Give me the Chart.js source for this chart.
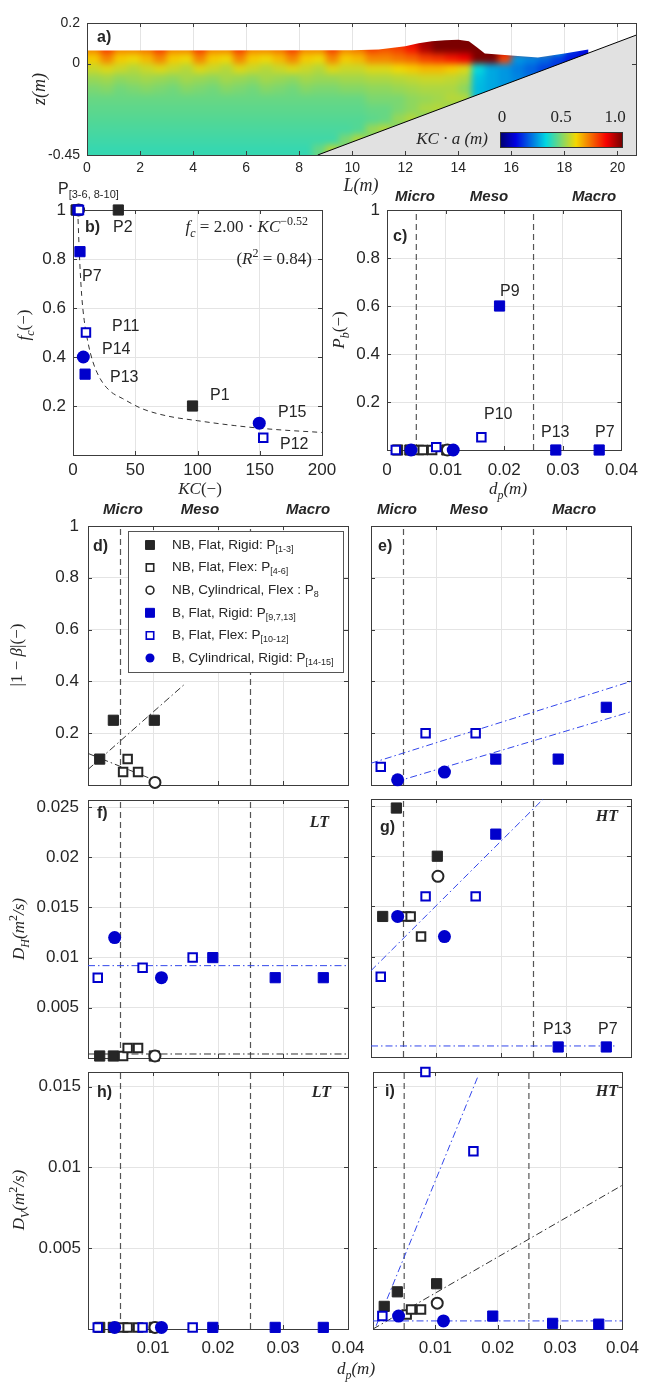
<!DOCTYPE html>
<html>
<head>
<meta charset="utf-8">
<script src="https://cdn.jsdelivr.net/npm/chart.js@4.4.1/dist/chart.umd.min.js"></script>
<style>
  html, body { margin: 0; padding: 0; background: #fff; }
  #wrap { position: relative; width: 648px; height: 1386px; overflow: hidden; }
  #wrap canvas { position: absolute; left: 0; top: 0; }
</style>
</head>
<body>
<div id="wrap"></div>
<script>
// ---------- data ----------

// a) KC*a field along the flume (0.5 m x 0.05 m cells, top row starts at z = 0.15)
const fieldX0 = 0, fieldDX = 0.5, fieldZ0 = 0.15, fieldDZ = 0.05;
const kcaRows = [
  [0.72,0.8,0.72,0.72,0.74,0.8,0.72,0.72,0.8,0.72,0.72,0.8,0.72,0.72,0.74,0.8,0.72,0.72,0.8,0.72,0.74,0.8, 0.8,0.85,0.9,0.97,1,1,1,1,0.95,0.9,0.85,0.8,0.6,0.3,0.2,0.15,0.15,0.15,0.15,0.15],
  [0.72,0.8,0.72,0.72,0.74,0.8,0.72,0.72,0.8,0.72,0.72,0.8,0.72,0.72,0.74,0.8,0.72,0.72,0.8,0.72,0.74,0.8, 0.78,0.8,0.85,0.95,1,1,1,1,1,0.92,0.88,0.85,0.7,0.4,0.2,0.15,0.15,0.15,0.15,0.15],
  [0.64,0.72,0.64,0.62,0.66,0.72,0.64,0.62,0.72,0.64,0.62,0.72,0.64,0.62,0.66,0.72,0.64,0.62,0.72,0.64,0.66,0.72, 0.72,0.74,0.76,0.8,0.82,0.85,0.88,1,1,0.8,0.3,0.28,0.25,0.2,0.15,0.12,0.12,0.12,0.12,0.12],
  [0.58,0.6,0.58,0.56,0.58,0.6,0.58,0.56,0.6,0.58,0.56,0.6,0.58,0.56,0.58,0.6,0.58,0.56,0.6,0.58,0.58,0.6, 0.6,0.62,0.64,0.66,0.66,0.64,0.6,0.38,0.32,0.3,0.27,0.24,0.2,0.18,0.15,0.12,0.12,0.12,0.12,0.12],
  [0.53,0.54,0.52,0.53,0.54,0.53,0.52,0.54,0.53,0.52,0.54,0.53,0.52,0.54,0.53,0.52,0.54,0.53,0.53,0.54,0.54,0.55, 0.55,0.56,0.57,0.58,0.58,0.57,0.55,0.35,0.32,0.3,0.28,0.25,0.22,0.2,0.2,0.2,0.2,0.2,0.2,0.2],
  [0.5,0.51,0.49,0.5,0.51,0.5,0.49,0.51,0.5,0.49,0.51,0.5,0.49,0.51,0.5,0.49,0.51,0.5,0.5,0.51,0.51,0.52, 0.52,0.53,0.54,0.55,0.55,0.55,0.52,0.34,0.32,0.3,0.3,0.3,0.3,0.3,0.3,0.3,0.3,0.3,0.3,0.3],
  [0.48,0.48,0.48,0.48,0.48,0.48,0.48,0.48,0.48,0.48,0.48,0.48,0.48,0.48,0.48,0.48,0.48,0.48,0.48,0.48,0.48,0.5, 0.5,0.5,0.52,0.53,0.54,0.56,0.56,0.35,0.35,0.35,0.35,0.35,0.35,0.35,0.35,0.35,0.35,0.35,0.35,0.35],
  [0.47,0.47,0.47,0.47,0.47,0.47,0.47,0.47,0.47,0.47,0.47,0.47,0.47,0.47,0.47,0.47,0.47,0.47,0.47,0.47,0.47,0.48, 0.48,0.5,0.52,0.55,0.56,0.52,0.5,0.5,0.5,0.5,0.5,0.5,0.5,0.5,0.5,0.5,0.5,0.5,0.5,0.5],
  [0.46,0.46,0.46,0.46,0.46,0.46,0.46,0.46,0.46,0.46,0.46,0.46,0.46,0.46,0.46,0.46,0.46,0.46,0.46,0.46,0.46,0.47, 0.48,0.53,0.56,0.5,0.5,0.5,0.5,0.5,0.5,0.5,0.5,0.5,0.5,0.5,0.5,0.5,0.5,0.5,0.5,0.5],
  [0.45,0.45,0.45,0.45,0.45,0.45,0.45,0.45,0.45,0.45,0.45,0.45,0.45,0.45,0.45,0.45,0.45,0.45,0.45,0.45,0.46,0.53, 0.56,0.5,0.5,0.5,0.5,0.5,0.5,0.5,0.5,0.5,0.5,0.5,0.5,0.5,0.5,0.5,0.5,0.5,0.5,0.5],
  [0.44,0.44,0.44,0.44,0.44,0.44,0.44,0.44,0.44,0.44,0.44,0.44,0.44,0.44,0.44,0.44,0.44,0.44,0.44,0.5,0.56,0.5, 0.5,0.5,0.5,0.5,0.5,0.5,0.5,0.5,0.5,0.5,0.5,0.5,0.5,0.5,0.5,0.5,0.5,0.5,0.5,0.5],
  [0.43,0.43,0.43,0.43,0.43,0.43,0.43,0.43,0.43,0.43,0.43,0.43,0.43,0.43,0.43,0.43,0.43,0.48,0.56,0.5,0.5,0.5, 0.5,0.5,0.5,0.5,0.5,0.5,0.5,0.5,0.5,0.5,0.5,0.5,0.5,0.5,0.5,0.5,0.5,0.5,0.5,0.5]
];
const surfX = [0, 10, 11, 12, 12.5, 13, 13.5, 14, 14.4, 14.7, 15.0, 15.5, 16, 17, 18, 18.9];
const surfZ = [0.064, 0.066, 0.07, 0.085, 0.1, 0.11, 0.115, 0.118, 0.11, 0.08, 0.05, 0.045, 0.04, 0.03, 0.05, 0.07];
const bedX = [8.7, 20.7];
const bedZ = [-0.45, 0.14];
const lTicks = [0, 2, 4, 6, 8, 10, 12, 14, 16, 18, 20];
const zTicks = [-0.45, 0, 0.2];

// particle diameter per group (P1-3, P4-6, P8, P9/P7/P13, P10-12, P14-15)
const dpNbRigid = [0.0018, 0.0039, 0.0102];
const dpNbFlex = [0.0054, 0.0061, 0.0077];
const dpNbCyl = [0.0103];
const dpBRigid = [0.0192, 0.0362, 0.0288];
const dpBFlex = [0.0015, 0.0084, 0.0161];
const dpBCyl = [0.0041, 0.0113];

// b) KC and fc
const kcNbRigid = [96, 36.4, 2.5], fcNbRigid = [0.2, 1, 1];
const kcNbFlex = [3, 3.5, 4], fcNbFlex = [1, 1, 1];
const kcNbCyl = [4.5], fcNbCyl = [1];
const kcBRigid = [4, 5.6, 9.7], fcBRigid = [1, 0.83, 0.33];
const kcBFlex = [4.8, 10.4, 152.8], fcBFlex = [1, 0.5, 0.07];
const kcBCyl = [8.3, 149.6], fcBCyl = [0.4, 0.13];
const kcFit = [3.8, 4.5, 5.5, 7, 9, 12, 16, 22, 30, 40, 55, 75, 100, 130, 160, 200];
const fcFit = [1.0, 0.9, 0.78, 0.65, 0.55, 0.46, 0.38, 0.31, 0.26, 0.23, 0.19, 0.16, 0.14, 0.12, 0.105, 0.092];

// c) Pb
const pbNbRigid = [0, 0, 0], pbNbFlex = [0, 0, 0], pbNbCyl = [0];
const pbBRigid = [0.6, 0, 0], pbBFlex = [0, 0.012, 0.053], pbBCyl = [0, 0];

// d, e) |1 - beta|
const betaNbRigid = [0.1, 0.25, 0.25], betaNbFlex = [0.05, 0.1, 0.05], betaNbCyl = [0.01];
const betaBRigid = [0.1, 0.3, 0.1], betaBFlex = [0.07, 0.2, 0.2], betaBCyl = [0.02, 0.05];
const betaNbFitAX = [0, 0.0149], betaNbFitAY = [0.06, 0.39];
const betaNbFitBX = [0, 0.0095], betaNbFitBY = [0.122, 0.026];
const betaBFitAX = [0, 0.04], betaBFitAY = [0.084, 0.40];
const betaBFitBX = [0.0039, 0.04], betaBFitBY = [0.013, 0.283];

// f) DH, low turbulence
const dhLtNbRigid = [0.0002, 0.0002, 0.0002], dhLtNbFlex = [0.0002, 0.001, 0.001], dhLtNbCyl = [0.0002];
const dhLtBRigid = [0.01, 0.008, 0.008], dhLtBFlex = [0.008, 0.009, 0.01], dhLtBCyl = [0.012, 0.008];
const dhLtBFitX = [0, 0.04], dhLtBFitY = [0.0092, 0.0092];
const dhLtNbFitX = [0, 0.04], dhLtNbFitY = [0.0004, 0.0004];

// g) DH, high turbulence
const dhHtNbRigid = [0.014, 0.0248, 0.02], dhHtNbFlex = [0.014, 0.014, 0.012], dhHtNbCyl = [0.018];
const dhHtBRigid = [0.0222, 0.001, 0.001], dhHtBFlex = [0.008, 0.016, 0.016], dhHtBCyl = [0.014, 0.012];
const dhHtBFitAX = [0, 0.0265], dhHtBFitAY = [0.0086, 0.0257];
const dhHtBFitBX = [0, 0.0375], dhHtBFitBY = [0.0011, 0.0011];

// h) DV, low turbulence
const dvLtNbRigid = [0.0001, 0.0001, 0.0001], dvLtNbFlex = [0.0001, 0.0001, 0.0001], dvLtNbCyl = [0.0001];
const dvLtBRigid = [0.0001, 0.0001, 0.0001], dvLtBFlex = [0.0001, 0.0001, 0.0001], dvLtBCyl = [0.0001, 0.0001];

// i) DV, high turbulence
const dvHtNbRigid = [0.0014, 0.0023, 0.0028], dvHtNbFlex = [0.0009, 0.0012, 0.0012], dvHtNbCyl = [0.0016];
const dvHtBRigid = [0.0008, 0.0003, 0.00035], dvHtBFlex = [0.0008, 0.0159, 0.011], dvHtBCyl = [0.0008, 0.0005];
const dvHtBFitAX = [0.0005, 0.0168], dvHtBFitAY = [0.0002, 0.0156];
const dvHtNbFitX = [0, 0.04], dvHtNbFitY = [0, 0.0089];
const dvHtBFitBX = [0, 0.04], dvHtBFitBY = [0.0005, 0.0005];

const regimeDp = [0.005, 0.025];
const dpTicks = [0, 0.01, 0.02, 0.03, 0.04];
const kcTicks = [0, 50, 100, 150, 200];
const unitTicks = [0, 0.2, 0.4, 0.6, 0.8, 1];
const dhTicks = [0, 0.005, 0.01, 0.015, 0.02, 0.025];
const dvTicks = [0, 0.005, 0.01, 0.015];

// ---------- look ----------
const W = 648, H = 1386;
const AXW = 70, AXH = 40; // room kept for tick labels outside each plot box
const INK = '#262626', GRID = '#e4e4e4', FRAME = '#3c3c3c';
const BLUE = 'rgb(0,0,204)', FIT_BLUE = 'rgb(50,70,235)', REGIME = '#555';
const SANS = 'Arial, "Liberation Sans", Helvetica, sans-serif';
const SERIF = '"Liberation Serif", "DejaVu Serif", serif';
const DASHDOT = [7, 3, 1.5, 3];

const GROUPS = [
  { label: 'NB, Flat, Rigid: P', sub: '[1-3]', shape: 'rect', r: 7.2, fill: INK, stroke: INK, bw: 1 },
  { label: 'NB, Flat, Flex: P', sub: '[4-6]', shape: 'rect', r: 6, fill: '#fff', stroke: INK, bw: 2 },
  { label: 'NB, Cylindrical, Flex : P', sub: '8', shape: 'circle', r: 5.5, fill: '#fff', stroke: INK, bw: 2 },
  { label: 'B, Flat, Rigid: P', sub: '[9,7,13]', shape: 'rect', r: 7.2, fill: BLUE, stroke: BLUE, bw: 1 },
  { label: 'B, Flat, Flex: P', sub: '[10-12]', shape: 'rect', r: 6, fill: '#fff', stroke: BLUE, bw: 2 },
  { label: 'B, Cylindrical, Rigid: P', sub: '[14-15]', shape: 'circle', r: 6.5, fill: BLUE, stroke: BLUE, bw: 0 }
];

function jet(v) {
  v = Math.max(0, Math.min(1, v));
  const f = t => Math.max(0, Math.min(1, 1.5 - Math.abs(4 * v - t)));
  return `rgb(${Math.round(f(3) * 245)},${Math.round(f(2) * 215)},${Math.round(f(1) * 225)})`;
}

function pts(xs, ys) { return xs.map((x, k) => ({ x, y: ys[k] })); }

function markers(xsList, ysList) {
  const out = [];
  for (let k = GROUPS.length - 1; k >= 0; k--) {
    if (!ysList[k]) continue;
    const g = GROUPS[k];
    out.push({
      data: pts(xsList[k], ysList[k]), showLine: false, clip: false,
      pointStyle: g.shape, pointRadius: g.r, pointHoverRadius: g.r,
      pointBackgroundColor: g.fill, pointBorderColor: g.stroke, pointBorderWidth: g.bw
    });
  }
  return out;
}

function line(xs, ys, color, dash, width) {
  return {
    data: pts(xs, ys), showLine: true, pointRadius: 0, fill: false,
    borderColor: color, borderWidth: width || 1, borderDash: dash || []
  };
}

function regimeLines(ymin, ymax) {
  return regimeDp.map(v => line([v, v], [ymin, ymax], REGIME, [6, 4], 1.2));
}

const dpAll = [dpNbRigid, dpNbFlex, dpNbCyl, dpBRigid, dpBFlex, dpBCyl];

// ---------- drawing helpers ----------
function drawRich(ctx, segs, x, y, opt = {}) {
  const size = opt.size || 17, fam = opt.family || SERIF;
  const font = s => {
    const m = s[1] || '';
    const small = m.includes('_') || m.includes('^');
    return (m.includes('b') ? 'bold ' : '') + (m.includes('i') ? 'italic ' : '') +
      (small ? Math.round(size * 0.68) : size) + 'px ' + fam;
  };
  let total = 0;
  const widths = segs.map(s => { ctx.font = font(s); const w = ctx.measureText(s[0]).width; total += w; return w; });
  ctx.save();
  ctx.translate(x, y);
  if (opt.rotate) ctx.rotate(opt.rotate);
  ctx.fillStyle = opt.color || INK;
  ctx.textBaseline = 'middle';
  ctx.textAlign = 'left';
  let cx = opt.align === 'left' ? 0 : opt.align === 'right' ? -total : -total / 2;
  segs.forEach((s, k) => {
    const m = s[1] || '';
    ctx.font = font(s);
    const dy = m.includes('_') ? size * 0.32 : m.includes('^') ? -size * 0.38 : 0;
    ctx.fillText(s[0], cx, dy);
    cx += widths[k];
  });
  ctx.restore();
}

function txt(ctx, s, x, y, font, align) {
  ctx.save();
  ctx.font = font;
  ctx.fillStyle = INK;
  ctx.textAlign = align || 'left';
  ctx.textBaseline = 'middle';
  ctx.fillText(s, x, y);
  ctx.restore();
}

const LBL = `16px ${SANS}`;
const PANEL = `bold 16px ${SANS}`;
const REG = `bold italic 15px ${SANS}`;
const TURB = `bold italic 16px ${SERIF}`;
const UP = -Math.PI / 2;

function regimeHeads(ctx, xs, y) {
  txt(ctx, 'Micro', xs[0], y, REG, 'center');
  txt(ctx, 'Meso', xs[1], y, REG, 'center');
  txt(ctx, 'Macro', xs[2], y, REG, 'center');
}

function framePlugin(onTop) {
  const draw = chart => {
    const { ctx, chartArea: a, scales } = chart;
    ctx.save();
    ctx.strokeStyle = FRAME;
    ctx.lineWidth = 1;
    ctx.beginPath();
    scales.x.ticks.forEach(t => {
      const px = Math.round(scales.x.getPixelForValue(t.value)) + 0.5;
      ctx.moveTo(px, a.bottom); ctx.lineTo(px, a.bottom - 4);
      ctx.moveTo(px, a.top); ctx.lineTo(px, a.top + 4);
    });
    scales.y.ticks.forEach(t => {
      const py = Math.round(scales.y.getPixelForValue(t.value)) + 0.5;
      ctx.moveTo(a.left, py); ctx.lineTo(a.left + 4, py);
      ctx.moveTo(a.right, py); ctx.lineTo(a.right - 4, py);
    });
    ctx.stroke();
    ctx.strokeRect(Math.round(a.left) + 0.5, Math.round(a.top) + 0.5,
      Math.round(a.right - a.left), Math.round(a.bottom - a.top));
    ctx.restore();
  };
  return onTop ? { id: 'frame', afterDraw: draw } : { id: 'frame', beforeDatasetsDraw: draw };
}

function notes(fn) { return { id: 'notes', afterDraw: chart => fn(chart.ctx, chart) }; }

function axis(o, dir) {
  const near = (list, v) => (list || []).some(l => Math.abs(l - v) < 1e-9);
  return {
    type: 'linear', min: o.min, max: o.max,
    afterFit(s) { if (dir === 'x') s.height = AXH; else s.width = AXW; },
    afterBuildTicks(s) { s.ticks = o.ticks.map(v => ({ value: v })); },
    grid: { color: GRID, drawTicks: false, lineWidth: 1 },
    border: { display: false },
    ticks: {
      display: !!o.labels, padding: o.pad == null ? 7 : o.pad, color: INK,
      font: { family: SANS, size: o.size || 17 }, autoSkip: false, maxRotation: 0,
      callback: v => near(o.labels, v) ? String(v) : ''
    }
  };
}

function panel(box, xo, yo, datasets, plugins) {
  const cv = document.createElement('canvas');
  cv.width = W; cv.height = H;
  cv.style.width = W + 'px'; cv.style.height = H + 'px';
  document.getElementById('wrap').appendChild(cv);
  return new Chart(cv, {
    type: 'scatter',
    data: { datasets },
    options: {
      responsive: false, animation: false, devicePixelRatio: 1, events: [],
      layout: { padding: { left: box[0] - AXW, top: box[1], right: W - box[2], bottom: H - box[3] - AXH } },
      plugins: { legend: { display: false }, tooltip: { enabled: false } },
      scales: { x: axis(xo, 'x'), y: axis(yo, 'y') }
    },
    plugins
  });
}

// ---------- a) wave field ----------
const fieldPlugin = {
  id: 'field',
  beforeDatasetsDraw(chart) {
    const { ctx, chartArea: a, scales: { x, y } } = chart;
    const off = document.createElement('canvas');
    off.width = W; off.height = H;
    const o = off.getContext('2d');
    kcaRows.forEach((row, j) => row.forEach((v, i) => {
      let x0 = x.getPixelForValue(fieldX0 + i * fieldDX);
      const x1 = x.getPixelForValue(fieldX0 + (i + 1) * fieldDX);
      const y0 = y.getPixelForValue(fieldZ0 - j * fieldDZ);
      let y1 = y.getPixelForValue(fieldZ0 - (j + 1) * fieldDZ);
      if (i === 0) x0 -= 10;
      if (j === kcaRows.length - 1) y1 += 10;
      o.fillStyle = jet(v);
      o.fillRect(x0, y0, x1 - x0 + 1, y1 - y0 + 1);
    }));
    ctx.save();
    ctx.beginPath();
    ctx.rect(a.left, a.top, a.right - a.left, a.bottom - a.top);
    ctx.clip();
    ctx.beginPath();
    surfX.forEach((sx, k) => {
      const px = x.getPixelForValue(sx), py = y.getPixelForValue(surfZ[k]);
      if (k === 0) ctx.moveTo(px, py); else ctx.lineTo(px, py);
    });
    ctx.lineTo(x.getPixelForValue(surfX[surfX.length - 1]), a.bottom + 2);
    ctx.lineTo(a.left, a.bottom + 2);
    ctx.closePath();
    ctx.clip();
    ctx.filter = 'blur(3px)';
    ctx.drawImage(off, 0, 0);
    ctx.filter = 'none';
    ctx.restore();
  }
};

const bedSet = {
  type: 'line', data: pts(bedX, bedZ), pointRadius: 0, borderColor: '#000', borderWidth: 1,
  backgroundColor: '#e1e1e1', fill: 'start'
};

panel([87, 23, 636, 155],
  { min: 0, max: 20.7, ticks: lTicks, labels: lTicks, size: 14, pad: 5 },
  { min: -0.45, max: 0.2, ticks: zTicks, labels: zTicks, size: 14, pad: 7 },
  [bedSet],
  [fieldPlugin, framePlugin(true), notes(ctx => {
    txt(ctx, 'a)', 97, 38, PANEL);
    drawRich(ctx, [['z', 'i'], ['(m)', 'i']], 40, 89, { rotate: UP, size: 18 });
    drawRich(ctx, [['L', 'i'], ['(m)', 'i']], 361, 186, { size: 18 });
    // colour bar
    const cx0 = 500, cx1 = 622, cy0 = 132, cy1 = 147;
    for (let px = cx0; px < cx1; px++) {
      ctx.fillStyle = jet((px - cx0) / (cx1 - cx0 - 1));
      ctx.fillRect(px, cy0, 1, cy1 - cy0);
    }
    ctx.strokeStyle = '#333';
    ctx.lineWidth = 1;
    ctx.strokeRect(cx0 + 0.5, cy0 + 0.5, cx1 - cx0, cy1 - cy0);
    txt(ctx, '0', cx0 + 2, 118, `17px ${SERIF}`, 'center');
    txt(ctx, '0.5', (cx0 + cx1) / 2, 118, `17px ${SERIF}`, 'center');
    txt(ctx, '1.0', cx1 - 7, 118, `17px ${SERIF}`, 'center');
    drawRich(ctx, [['KC · a (m)', 'i']], 488, 140, { align: 'right', size: 17 });
  })]);

// ---------- b) fc vs KC ----------
panel([73, 210, 322, 455],
  { min: 0, max: 200, ticks: kcTicks, labels: kcTicks, pad: 5 },
  { min: 0, max: 1, ticks: unitTicks, labels: [0.2, 0.4, 0.6, 0.8, 1] },
  [...markers([kcNbRigid, kcNbFlex, kcNbCyl, kcBRigid, kcBFlex, kcBCyl],
              [fcNbRigid, fcNbFlex, fcNbCyl, fcBRigid, fcBFlex, fcBCyl]),
   Object.assign(line(kcFit, fcFit, '#333', [5, 4]), { cubicInterpolationMode: 'monotone' })],
  [framePlugin(false), notes(ctx => {
    drawRich(ctx, [['P', ''], ['[3-6, 8-10]', '_']], 58, 190, { align: 'left', size: 16, family: SANS });
    txt(ctx, 'b)', 85, 228, PANEL);
    txt(ctx, 'P2', 113, 228, LBL);
    drawRich(ctx, [['f', 'i'], ['c', 'i_'], [' = 2.00 · ', ''], ['KC', 'i'], ['−0.52', '^']], 308, 228, { align: 'right', size: 17 });
    drawRich(ctx, [['(', ''], ['R', 'i'], ['2', '^'], [' = 0.84)', '']], 312, 260, { align: 'right', size: 17 });
    txt(ctx, 'P7', 82, 277, LBL);
    txt(ctx, 'P11', 112, 327, LBL);
    txt(ctx, 'P14', 102, 350, LBL);
    txt(ctx, 'P13', 110, 378, LBL);
    txt(ctx, 'P1', 210, 396, LBL);
    txt(ctx, 'P15', 278, 413, LBL);
    txt(ctx, 'P12', 280, 445, LBL);
    drawRich(ctx, [['KC', 'i'], ['(−)', '']], 200, 490);
    drawRich(ctx, [['f', 'i'], ['c', 'i_'], ['(−)', '']], 25, 325, { rotate: UP });
  })]);

// ---------- c) Pb vs dp ----------
panel([387, 210, 627, 450],
  { min: 0, max: 0.04, ticks: dpTicks, labels: dpTicks, pad: 10 },
  { min: 0, max: 1, ticks: unitTicks, labels: [0.2, 0.4, 0.6, 0.8, 1] },
  [...markers(dpAll, [pbNbRigid, pbNbFlex, pbNbCyl, pbBRigid, pbBFlex, pbBCyl]), ...regimeLines(0, 1)],
  [framePlugin(false), notes(ctx => {
    regimeHeads(ctx, [415, 489, 594], 197);
    txt(ctx, 'c)', 393, 237, PANEL);
    txt(ctx, 'P9', 500, 292, LBL);
    txt(ctx, 'P10', 484, 415, LBL);
    txt(ctx, 'P13', 541, 433, LBL);
    txt(ctx, 'P7', 595, 433, LBL);
    drawRich(ctx, [['d', 'i'], ['p', 'i_'], ['(m)', 'i']], 508, 490);
    drawRich(ctx, [['P', 'i'], ['b', 'i_'], ['(−)', '']], 340, 330, { rotate: UP });
  })]);

// ---------- d) |1-beta| non-buoyant ----------
panel([88, 526, 348, 785],
  { min: 0, max: 0.04, ticks: dpTicks },
  { min: 0, max: 1, ticks: unitTicks, labels: [0.2, 0.4, 0.6, 0.8, 1], pad: 9 },
  [...markers(dpAll, [betaNbRigid, betaNbFlex, betaNbCyl, null, null, null]),
   line(betaNbFitAX, betaNbFitAY, '#333', DASHDOT), line(betaNbFitBX, betaNbFitBY, '#333', DASHDOT),
   ...regimeLines(0, 1)],
  [framePlugin(false), notes(ctx => {
    regimeHeads(ctx, [123, 200, 308], 510);
    txt(ctx, 'd)', 93, 547, PANEL);
    drawRich(ctx, [['|1 − ', ''], ['β', 'i'], ['|(−)', '']], 18, 655, { rotate: UP });
    // legend
    ctx.save();
    ctx.fillStyle = '#fff';
    ctx.fillRect(128, 531, 215, 141);
    ctx.strokeStyle = '#555';
    ctx.lineWidth = 1;
    ctx.strokeRect(128.5, 531.5, 215, 141);
    GROUPS.forEach((g, k) => {
      const yy = 545 + k * 22.6, s = g.r * 0.62;
      ctx.beginPath();
      if (g.shape === 'rect') ctx.rect(150 - s, yy - s, 2 * s, 2 * s);
      else ctx.arc(150, yy, s + 0.5, 0, Math.PI * 2);
      ctx.fillStyle = g.fill;
      ctx.fill();
      if (g.bw) { ctx.lineWidth = Math.min(g.bw, 1.6); ctx.strokeStyle = g.stroke; ctx.stroke(); }
      drawRich(ctx, [[g.label, ''], [g.sub, '_']], 172, yy, { align: 'left', size: 13.5, family: SANS });
    });
    ctx.restore();
  })]);

// ---------- e) |1-beta| buoyant ----------
panel([371, 526, 631, 785],
  { min: 0, max: 0.04, ticks: dpTicks },
  { min: 0, max: 1, ticks: unitTicks },
  [...markers(dpAll, [null, null, null, betaBRigid, betaBFlex, betaBCyl]),
   line(betaBFitAX, betaBFitAY, FIT_BLUE, DASHDOT), line(betaBFitBX, betaBFitBY, FIT_BLUE, DASHDOT),
   ...regimeLines(0, 1)],
  [framePlugin(false), notes(ctx => {
    regimeHeads(ctx, [397, 469, 574], 510);
    txt(ctx, 'e)', 378, 547, PANEL);
  })]);

// ---------- f) DH low turbulence ----------
panel([88, 800, 348, 1058],
  { min: 0, max: 0.04, ticks: dpTicks },
  { min: 0, max: 0.0257, ticks: dhTicks, labels: [0.005, 0.01, 0.015, 0.02, 0.025], pad: 9 },
  [...markers(dpAll, [dhLtNbRigid, dhLtNbFlex, dhLtNbCyl, dhLtBRigid, dhLtBFlex, dhLtBCyl]),
   line(dhLtBFitX, dhLtBFitY, FIT_BLUE, DASHDOT), line(dhLtNbFitX, dhLtNbFitY, '#333', DASHDOT),
   ...regimeLines(0, 0.0257)],
  [framePlugin(false), notes(ctx => {
    txt(ctx, 'f)', 97, 814, PANEL);
    txt(ctx, 'LT', 329, 823, TURB, 'right');
    drawRich(ctx, [['D', 'i'], ['H', 'i_'], ['(', 'i'], ['m', 'i'], ['2', '^'], ['/s)', 'i']], 20, 929, { rotate: UP });
  })]);

// ---------- g) DH high turbulence ----------
panel([371, 799, 631, 1057],
  { min: 0, max: 0.04, ticks: dpTicks },
  { min: 0, max: 0.0257, ticks: dhTicks },
  [...markers(dpAll, [dhHtNbRigid, dhHtNbFlex, dhHtNbCyl, dhHtBRigid, dhHtBFlex, dhHtBCyl]),
   line(dhHtBFitAX, dhHtBFitAY, FIT_BLUE, DASHDOT), line(dhHtBFitBX, dhHtBFitBY, FIT_BLUE, DASHDOT),
   ...regimeLines(0, 0.0257)],
  [framePlugin(false), notes(ctx => {
    txt(ctx, 'g)', 380, 828, PANEL);
    txt(ctx, 'HT', 618, 817, TURB, 'right');
    txt(ctx, 'P13', 543, 1030, LBL);
    txt(ctx, 'P7', 598, 1030, LBL);
  })]);

// ---------- h) DV low turbulence ----------
panel([88, 1072, 348, 1329],
  { min: 0, max: 0.04, ticks: dpTicks, labels: [0.01, 0.02, 0.03, 0.04], pad: 9 },
  { min: 0, max: 0.0159, ticks: dvTicks, labels: [0.005, 0.01, 0.015], pad: 7 },
  [...markers(dpAll, [dvLtNbRigid, dvLtNbFlex, dvLtNbCyl, dvLtBRigid, dvLtBFlex, dvLtBCyl]),
   ...regimeLines(0, 0.0159)],
  [framePlugin(false), notes(ctx => {
    txt(ctx, 'h)', 97, 1093, PANEL);
    txt(ctx, 'LT', 331, 1093, TURB, 'right');
    drawRich(ctx, [['D', 'i'], ['V', 'i_'], ['(', 'i'], ['m', 'i'], ['2', '^'], ['/s)', 'i']], 20, 1200, { rotate: UP });
  })]);

// ---------- i) DV high turbulence ----------
panel([373, 1072, 632, 1329],
  { min: 0, max: 0.04, ticks: dpTicks, labels: [0.01, 0.02, 0.03, 0.04], pad: 9 },
  { min: 0, max: 0.0159, ticks: dvTicks },
  [...markers(dpAll, [dvHtNbRigid, dvHtNbFlex, dvHtNbCyl, dvHtBRigid, dvHtBFlex, dvHtBCyl]),
   line(dvHtBFitAX, dvHtBFitAY, FIT_BLUE, DASHDOT), line(dvHtNbFitX, dvHtNbFitY, '#333', DASHDOT),
   line(dvHtBFitBX, dvHtBFitBY, FIT_BLUE, DASHDOT),
   ...regimeLines(0, 0.0159)],
  [framePlugin(false), notes(ctx => {
    txt(ctx, 'i)', 385, 1092, PANEL);
    txt(ctx, 'HT', 618, 1092, TURB, 'right');
    drawRich(ctx, [['d', 'i'], ['p', 'i_'], ['(m)', 'i']], 356, 1370);
  })]);
</script>
</body>
</html>
